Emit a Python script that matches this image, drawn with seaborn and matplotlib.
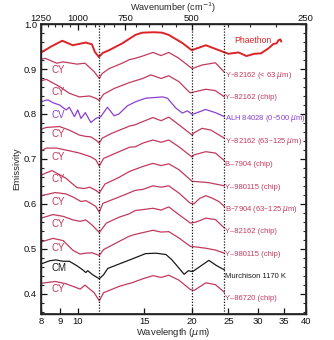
import numpy as np
import pandas as pd
import matplotlib
matplotlib.use("Agg")
import matplotlib.pyplot as plt
import seaborn as sns
from matplotlib.ticker import FixedLocator, NullLocator, MultipleLocator, NullFormatter

sns.set_theme(style="ticks")
plt.rcParams['font.family'] = ['Liberation Sans', 'DejaVu Sans']

# ---------------- data (wavelength in micron, emissivity) ----------------
phaethon_wl = [8.0, 8.5, 9.1, 9.7, 10.5, 10.9, 11.1, 11.37, 11.65, 12.1, 13.1, 14.2, 14.8, 15.9, 16.7, 17.4,
               18.9, 20.0, 21.8, 23.6, 25.0, 26.6, 27.9, 29.3, 30.5, 31.9, 32.9, 33.5, 33.9, 34.3, 34.5]
phaethon_em = [0.937, 0.950, 0.963, 0.953, 0.959, 0.955, 0.938, 0.927, 0.936, 0.942, 0.957, 0.976, 0.981, 0.982,
               0.981, 0.976, 0.958, 0.942, 0.953, 0.942, 0.934, 0.937, 0.929, 0.934, 0.935, 0.946, 0.956, 0.957,
               0.964, 0.966, 0.961]

y82162a_wl = [8.0, 8.2, 8.8, 9.15, 9.95, 10.45, 10.7, 11.05, 11.4, 11.6, 12.1, 13.1, 13.7, 14.2, 14.85, 15.8,
              16.6, 17.4, 18.5, 20.05, 21.3, 23.1, 24.4]
y82162a_em = [0.922, 0.924, 0.913, 0.916, 0.911, 0.913, 0.905, 0.894, 0.879, 0.890, 0.901, 0.913, 0.921, 0.924,
              0.929, 0.937, 0.930, 0.937, 0.924, 0.901, 0.909, 0.914, 0.893]

y82162b_wl = [8.0, 8.26, 8.95, 9.5, 10.1, 10.75, 11.15, 11.4, 11.7, 12.5, 13.7, 14.2, 14.85, 15.6, 16.6, 17.4,
              18.5, 19.8, 20.3, 21.8, 23.1, 24.4]
y82162b_em = [0.874, 0.877, 0.861, 0.846, 0.838, 0.840, 0.835, 0.830, 0.844, 0.857, 0.870, 0.874, 0.879, 0.887,
              0.879, 0.885, 0.872, 0.847, 0.849, 0.855, 0.852, 0.838]

alh_wl = [8.0, 8.26, 8.36, 8.6, 8.95, 9.32, 9.5, 9.8, 10.0, 10.2, 10.47, 10.83, 11.16, 11.5, 11.98, 12.47, 12.85,
          13.52, 14.2, 15.1, 16.75, 17.26, 18.17, 18.9, 19.48, 20.07, 20.69, 21.76, 23.1, 24.4]
alh_em = [0.827, 0.831, 0.831, 0.825, 0.820, 0.809, 0.815, 0.794, 0.809, 0.790, 0.803, 0.781, 0.790, 0.794, 0.815,
          0.796, 0.800, 0.818, 0.827, 0.835, 0.838, 0.835, 0.813, 0.802, 0.807, 0.799, 0.803, 0.810, 0.803, 0.794]

y82162c_wl = [8.0, 8.26, 8.95, 9.5, 10.1, 10.5, 10.83, 11.16, 11.4, 11.6, 12.3, 13.7, 14.2, 14.85, 15.8, 16.6,
              17.4, 18.5, 20.05, 20.3, 21.3, 22.5, 24.4]
y82162c_em = [0.766, 0.770, 0.772, 0.764, 0.753, 0.750, 0.749, 0.742, 0.735, 0.746, 0.757, 0.773, 0.776, 0.783,
              0.792, 0.785, 0.793, 0.776, 0.753, 0.758, 0.768, 0.764, 0.746]

b7904a_wl = [8.0, 8.26, 8.8, 9.5, 10.1, 10.8, 11.16, 11.4, 11.7, 12.3, 13.7, 14.2, 14.85, 15.8, 16.6, 17.4, 18.5,
             20.05, 20.3, 21.8, 23.1, 24.4]
b7904a_em = [0.718, 0.724, 0.724, 0.718, 0.713, 0.705, 0.698, 0.684, 0.701, 0.709, 0.726, 0.727, 0.735, 0.742,
             0.737, 0.742, 0.727, 0.704, 0.709, 0.716, 0.713, 0.696]

y980115a_wl = [8.0, 8.55, 9.3, 9.95, 10.4, 10.75, 11.16, 11.4, 11.8, 12.8, 13.7, 14.85, 15.8, 16.6, 17.4, 18.5,
               20.05, 20.9, 22.2, 24.4]
y980115a_em = [0.664, 0.674, 0.657, 0.636, 0.634, 0.637, 0.630, 0.624, 0.644, 0.658, 0.672, 0.683, 0.690, 0.685,
               0.689, 0.676, 0.650, 0.649, 0.647, 0.640]

b7904b_wl = [8.0, 8.72, 9.3, 9.72, 10.2, 10.5, 10.83, 11.16, 11.4, 11.65, 12.85, 14.2, 14.85, 15.8, 16.6, 17.4,
             18.5, 19.85, 20.28, 21.0, 21.8, 22.6, 23.6, 24.4]
b7904b_em = [0.618, 0.625, 0.622, 0.615, 0.605, 0.607, 0.601, 0.594, 0.581, 0.601, 0.615, 0.630, 0.632, 0.640,
             0.637, 0.640, 0.624, 0.601, 0.600, 0.612, 0.618, 0.613, 0.605, 0.594]

y82162d_wl = [8.0, 8.6, 9.15, 9.72, 10.15, 10.5, 10.9, 11.4, 11.9, 12.85, 13.7, 14.2, 14.85, 15.8, 16.6, 17.4,
              18.5, 19.85, 20.5, 21.8, 23.1, 24.4]
y82162d_em = [0.568, 0.576, 0.572, 0.564, 0.561, 0.564, 0.553, 0.536, 0.557, 0.570, 0.578, 0.585, 0.587, 0.590,
              0.586, 0.593, 0.576, 0.557, 0.559, 0.568, 0.565, 0.546]

y980115b_wl = [8.0, 8.6, 9.15, 9.72, 10.15, 10.5, 10.9, 11.4, 11.7, 12.85, 13.7, 14.2, 15.8, 16.6, 17.4, 18.5,
               19.85, 20.5, 21.8, 23.1, 24.4]
y980115b_em = [0.515, 0.523, 0.518, 0.496, 0.488, 0.490, 0.491, 0.485, 0.498, 0.516, 0.528, 0.532, 0.541, 0.537,
               0.538, 0.524, 0.505, 0.504, 0.501, 0.497, 0.490]

murch_wl = [8.0, 8.42, 8.75, 9.15, 9.5, 9.95, 10.3, 10.5, 10.63, 10.95, 11.4, 11.7, 12.0, 12.6, 14.2, 15.1, 16.1,
            17.1, 17.7, 18.5, 19.1, 19.6, 20.1, 20.6, 22.2, 23.3, 24.4]
murch_em = [0.466, 0.473, 0.475, 0.472, 0.472, 0.462, 0.453, 0.447, 0.451, 0.442, 0.433, 0.442, 0.456, 0.463,
            0.480, 0.489, 0.490, 0.487, 0.476, 0.457, 0.443, 0.451, 0.449, 0.455, 0.474, 0.462, 0.453]

y86720_wl = [8.0, 8.72, 9.3, 9.72, 10.15, 10.45, 10.65, 11.05, 11.4, 11.7, 12.85, 14.0, 14.85, 15.8, 16.6, 17.4,
             18.5, 19.85, 20.28, 21.8, 23.1, 24.4]
y86720_em = [0.423, 0.427, 0.422, 0.416, 0.410, 0.419, 0.413, 0.402, 0.384, 0.402, 0.416, 0.425, 0.433, 0.440,
             0.436, 0.441, 0.430, 0.409, 0.407, 0.424, 0.420, 0.403]

groups = ['CY', 'CY', 'CV', 'CY', 'CY', 'CY', 'CY', 'CY', 'CY', 'CM', 'CY']
names = ['Y–82162 (< 63 $\\mu$m)', 'Y–82162 (chip)', 'ALH 84028 (0–500 $\\mu$m)', 'Y–82162 (63–125 $\\mu$m)',
         'B–7904 (chip)', 'Y–980115 (chip)', 'B–7904 (63–125 $\\mu$m)', 'Y–82162 (chip)', 'Y–980115 (chip)',
         'Murchison 1170 K', 'Y–86720 (chip)']
name_y = [0.886, 0.836, 0.789, 0.739, 0.687, 0.636, 0.587, 0.538, 0.487, 0.438, 0.389]
group_y = [0.898, 0.849, 0.798, 0.756, 0.704, 0.656, 0.604, 0.556, 0.502, 0.456, 0.411]

lab_wl = [y82162a_wl, y82162b_wl, alh_wl, y82162c_wl, b7904a_wl, y980115a_wl, b7904b_wl, y82162d_wl,
          y980115b_wl, murch_wl, y86720_wl]
lab_em = [y82162a_em, y82162b_em, alh_em, y82162c_em, b7904a_em, y980115a_em, b7904b_em, y82162d_em,
          y980115b_em, murch_em, y86720_em]

band_lines = [11.37, 20.07, 24.4]
bottom_ticks = [8, 9, 10, 15, 20, 25, 30, 35, 40]
top_major = [1250, 1000, 750, 500, 250]

colors = {'CY': '#c23a5e', 'CV': '#8a40d0', 'CM': '#1a1a1a'}
phaethon_color = '#dc2428'

# ---------------- figure ----------------
fig = plt.figure(figsize=(3.34, 3.40), dpi=100)
ax = fig.add_axes([0.123, 0.077, 0.792, 0.852])
ax.set_xscale('log')

df_p = pd.DataFrame({'wl': phaethon_wl, 'em': phaethon_em})
sns.lineplot(data=df_p, x='wl', y='em', ax=ax, color=phaethon_color, lw=1.4, sort=False, estimator=None)

for g, wl, em in zip(groups, lab_wl, lab_em):
    d = pd.DataFrame({'wl': wl, 'em': em})
    sns.lineplot(data=d, x='wl', y='em', ax=ax, color=colors[g], lw=0.9, sort=False, estimator=None)

for bl in band_lines:
    ax.axvline(bl, color='#111111', lw=0.9, ls=(0, (1, 1.3)))

for g, gy in zip(groups, group_y):
    ax.text(8.5, gy, g, color=colors[g], fontsize=7.0, va='center', ha='left')
for g, nm, ny in zip(groups, names, name_y):
    ax.text(24.5, ny, nm, color=colors[g], fontsize=5.5, va='center', ha='left')
ax.text(25.9, 0.963, 'Phaethon', color=phaethon_color, fontsize=6.2, va='center', ha='left')

ax.set_xlim(8, 40)
ax.set_ylim(0.355, 1.0)
ax.xaxis.set_major_locator(FixedLocator(bottom_ticks))
ax.xaxis.set_minor_locator(NullLocator())
ax.set_xticklabels([str(t) for t in bottom_ticks])
ax.xaxis.set_minor_formatter(NullFormatter())
ax.yaxis.set_major_locator(MultipleLocator(0.1))
ax.yaxis.set_minor_locator(MultipleLocator(0.02))
ax.set_yticklabels([f'{v:.1f}' for v in ax.get_yticks()])
ax.tick_params(axis='both', which='major', direction='in', length=4, width=0.9, labelsize=6.8, pad=2,
               colors='#111111', right=True)
ax.tick_params(axis='y', which='major', pad=3)
ax.tick_params(axis='y', which='minor', direction='in', length=2, width=0.8, right=True)
ax.tick_params(axis='x', which='both', top=False)
ax.set_xlabel('Wavelength ($\\mu$m)', fontsize=6.8, labelpad=0.5)
ax.set_ylabel('Emissivity', fontsize=6.8, labelpad=2)
for s in ax.spines.values():
    s.set_linewidth(1.0)
    s.set_color('#111111')

# top axis in wavenumber
ax2 = ax.twiny()
ax2.set_xscale('log')
ax2.set_xlim(ax.get_xlim())
ax2.xaxis.set_major_locator(FixedLocator([1e4 / w for w in top_major]))
ax2.xaxis.set_minor_locator(FixedLocator([1e4 / w for w in range(250, 1251, 50) if w not in top_major]))
ax2.set_xticklabels([str(w) for w in top_major])
ax2.xaxis.set_minor_formatter(NullFormatter())
ax2.tick_params(axis='x', which='major', direction='in', length=4, width=0.9, labelsize=6.8, pad=1.0, colors='#111111')
ax2.tick_params(axis='x', which='minor', direction='in', length=2.2, width=0.8)
ax2.set_xlabel('Wavenumber (cm$^{-1}$)', fontsize=6.6, labelpad=2.0)

fig.savefig('out.png', dpi=100, facecolor='white')
